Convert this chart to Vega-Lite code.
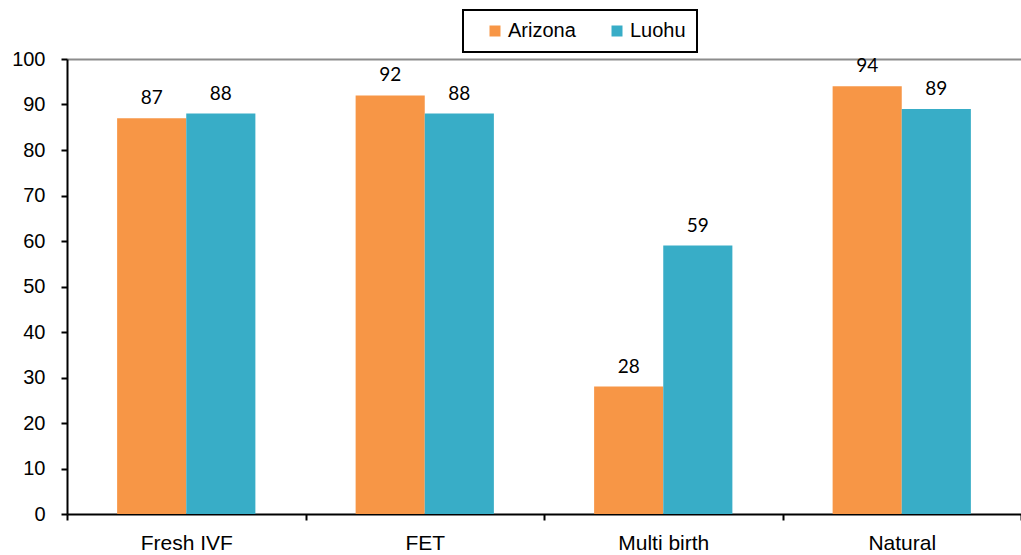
{
  "$schema": "https://vega.github.io/schema/vega-lite/v6.json",
  "width": 954,
  "height": 455,
  "autosize": {"type": "none"},
  "padding": {"left": 67, "top": 59, "right": 0, "bottom": 41},
  "background": "white",
  "config": {"view": {"stroke": null}, "legend": {"strokeWidth": 2}},
  "data": {
    "values": [
      {"category": "Fresh IVF", "series": "Arizona", "value": 87},
      {"category": "Fresh IVF", "series": "Luohu", "value": 88},
      {"category": "FET", "series": "Arizona", "value": 92},
      {"category": "FET", "series": "Luohu", "value": 88},
      {"category": "Multi birth", "series": "Arizona", "value": 28},
      {"category": "Multi birth", "series": "Luohu", "value": 59},
      {"category": "Natural", "series": "Arizona", "value": 94},
      {"category": "Natural", "series": "Luohu", "value": 89}
    ]
  },
  "encoding": {
    "x": {
      "field": "category",
      "type": "nominal",
      "sort": ["Fresh IVF", "FET", "Multi birth", "Natural"],
      "scale": {"paddingInner": 0, "paddingOuter": 0},
      "axis": {
        "title": null,
        "labelAngle": 0,
        "tickBand": "extent",
        "domainColor": "black",
        "domainWidth": 2,
        "tickColor": "black",
        "tickWidth": 2,
        "tickSize": 6,
        "labelFont": "Liberation Sans",
        "labelFontSize": 21,
        "labelColor": "black",
        "labelPadding": 12
      }
    },
    "xOffset": {
      "field": "series",
      "type": "nominal",
      "sort": ["Arizona", "Luohu"],
      "scale": {"paddingInner": 0, "paddingOuter": 0.725}
    },
    "y": {
      "field": "value",
      "type": "quantitative",
      "scale": {"domain": [0, 100], "nice": false},
      "axis": {
        "title": null,
        "values": [0, 10, 20, 30, 40, 50, 60, 70, 80, 90, 100],
        "domainColor": "black",
        "domainWidth": 2,
        "tickColor": "black",
        "tickWidth": 2,
        "tickSize": 6,
        "labelFont": "Liberation Sans",
        "labelFontSize": 20,
        "labelColor": "black",
        "labelPadding": 16,
        "grid": true,
        "gridWidth": 2,
        "gridColor": {"condition": {"test": "datum.value === 100", "value": "#8c8c8c"}, "value": "transparent"}
      }
    }
  },
  "layer": [
    {
      "mark": {"type": "bar"},
      "encoding": {
        "color": {
          "field": "series",
          "type": "nominal",
          "scale": {"domain": ["Arizona", "Luohu"], "range": ["#F79646", "#38ADC7"]},
          "legend": {
            "orient": "none",
            "legendX": 396,
            "legendY": -49,
            "direction": "horizontal",
            "title": null,
            "symbolType": "square",
            "symbolSize": 121,
            "symbolStrokeWidth": 0,
            "symbolOpacity": 1,
            "labelFont": "Liberation Sans",
            "labelFontSize": 20,
            "labelColor": "black",
            "strokeColor": "black",
            "fillColor": "white",
            "padding": 11,
            "columnPadding": 20,
            "labelOffset": 3,
            "symbolOffset": 11
          }
        }
      }
    },
    {
      "mark": {"type": "text", "baseline": "alphabetic", "dy": -14, "font": "Lato", "fontSize": 19, "color": "black"},
      "encoding": {"text": {"field": "value", "type": "quantitative"}}
    }
  ]
}
